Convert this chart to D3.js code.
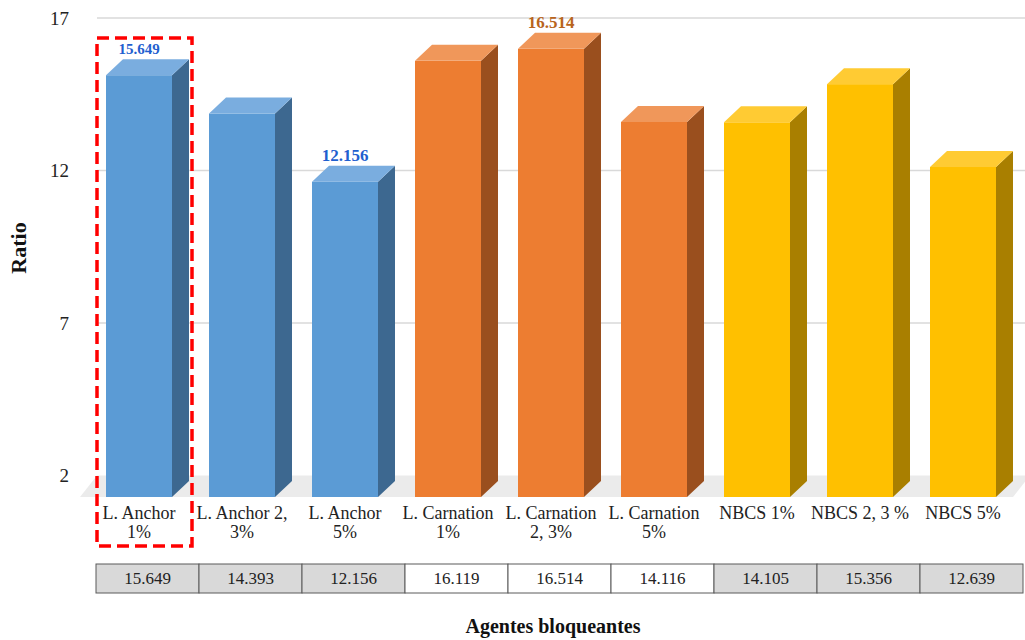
<!DOCTYPE html>
<html>
<head>
<meta charset="utf-8">
<script src="https://cdn.jsdelivr.net/npm/d3@7"></script>
<style>
  body { margin: 0; background: #fff; }
  svg { display: block; }
</style>
</head>
<body>
<div id="chart"></div>
<script>
// data
const categories = ["L. Anchor\n1%", "L. Anchor 2,\n3%", "L. Anchor\n5%", "L. Carnation\n1%", "L. Carnation\n2, 3%", "L. Carnation\n5%", "NBCS 1%", "NBCS 2, 3 %", "NBCS 5%"];
const values = [15.649, 14.393, 12.156, 16.119, 16.514, 14.116, 14.105, 15.356, 12.639];
const tableLabels = ["15.649", "14.393", "12.156", "16.119", "16.514", "14.116", "14.105", "15.356", "12.639"];
const groups = ["anchor", "anchor", "anchor", "carnation", "carnation", "carnation", "nbcs", "nbcs", "nbcs"];
const yTicks = [2, 7, 12, 17];
const highlighted = [0, 2, 4]; // bars with value label on top

const palette = {
    anchor:    {front: "#5b9bd5", top: "#7aaddf", side: "#3d6890", label: "#1f5fcf"},
    carnation: {front: "#ed7d31", top: "#f0975a", side: "#9a4f1e", label: "#b8641c"},
    nbcs:      {front: "#ffc000", top: "#ffcb33", side: "#a97f00", label: "#a97f00"}
}

let width = 1025, height = 640
let font = "'Liberation Serif', 'Times New Roman', serif"

let svg = d3.select('#chart')
    .append('svg')
    .attr('width', width)
    .attr('height', height)
    .style('font-family', font)

// depth of the 3d bars
let dx = 17, dy = 16
let floorFront = 497

let x = d3.scaleBand()
    .domain(d3.range(categories.length))
    .range([96, 1023])
    .padding(0)

// y scale on the back wall
let y = d3.scaleLinear()
    .domain([2, 17])
    .range([475.5, 18])

// floor
svg.append('path')
    .attr('d', `M97,${y(2)} L1030,${y(2)} L1013,${floorFront} L80,${floorFront} Z`)
    .attr('fill', '#ebebeb')

// gridlines
svg.append('g')
    .selectAll('line')
    .data(yTicks.filter(d => d > 2))
    .enter()
    .append('line')
    .attr('x1', 97)
    .attr('x2', 1025)
    .attr('y1', d => y(d))
    .attr('y2', d => y(d))
    .attr('stroke', '#d9d9d9')
    .attr('stroke-width', 1.3)

// y axis labels
let yAxis = d3.axisLeft(y).tickValues(yTicks).tickSize(0).tickPadding(0)
let yg = svg.append('g')
    .attr('transform', 'translate(69,0)')
    .call(yAxis)
yg.select('.domain').remove()
yg.selectAll('text')
    .style('font-family', font)
    .style('font-size', '19px')
    .attr('fill', '#222')

svg.append('text')
    .attr('transform', 'translate(26,248) rotate(-90)')
    .attr('text-anchor', 'middle')
    .style('font-size', '22px')
    .style('font-weight', 'bold')
    .attr('fill', '#111')
    .text('Ratio')

// bars
let barW = 66
let bars = svg.append('g')
    .selectAll('g')
    .data(values)
    .enter()
    .append('g')

bars.each(function(v, i) {
    let g = d3.select(this)
    let c = palette[groups[i]]
    let x0 = x(i) + x.bandwidth() / 2 - 41.5
    let x1 = x0 + barW
    let yt = y(v) + dy
    // front
    g.append('rect')
        .attr('x', x0).attr('y', yt)
        .attr('width', barW).attr('height', floorFront - yt)
        .attr('fill', c.front)
    // side
    g.append('path')
        .attr('d', `M${x1},${yt} L${x1 + dx},${yt - dy} L${x1 + dx},${floorFront - dy} L${x1},${floorFront} Z`)
        .attr('fill', c.side)
    // top
    g.append('path')
        .attr('d', `M${x0},${yt} L${x0 + dx},${yt - dy} L${x1 + dx},${yt - dy} L${x1},${yt} Z`)
        .attr('fill', c.top)
})

// value labels on selected bars
svg.append('g')
    .selectAll('text')
    .data(highlighted)
    .enter()
    .append('text')
    .attr('x', i => x(i) + x.bandwidth() / 2 - 41.5 + barW / 2)
    .attr('y', i => y(values[i]) - 5)
    .attr('text-anchor', 'middle')
    .style('font-size', i => i == 0 ? '15px' : '17px')
    .style('font-weight', 'bold')
    .attr('fill', i => palette[groups[i]].label)
    .text(i => values[i].toFixed(3))

// category labels
let catLabels = svg.append('g')
    .selectAll('text')
    .data(categories)
    .enter()
    .append('text')
    .attr('text-anchor', 'middle')
    .attr('x', (d, i) => x(i) + x.bandwidth() / 2 - 41.5 + barW / 2)
    .attr('y', 519)
    .style('font-size', '18px')
    .attr('fill', '#222')

catLabels.each(function(d) {
    let t = d3.select(this)
    d.split('\n').forEach((line, k) => {
        t.append('tspan')
            .attr('x', t.attr('x'))
            .attr('dy', k == 0 ? 0 : 19)
            .text(line)
    })
})

// table of values
let table = svg.append('g')
table.selectAll('rect')
    .data(tableLabels)
    .enter()
    .append('rect')
    .attr('x', (d, i) => x(i))
    .attr('y', 564)
    .attr('width', x.bandwidth())
    .attr('height', 29)
    .attr('fill', (d, i) => groups[i] == 'carnation' ? '#ffffff' : '#d9d9d9')
    .attr('stroke', '#5a5a5a')
    .attr('stroke-width', 1)

table.selectAll('text')
    .data(tableLabels)
    .enter()
    .append('text')
    .attr('x', (d, i) => x(i) + x.bandwidth() / 2)
    .attr('y', 584)
    .attr('text-anchor', 'middle')
    .style('font-size', '17px')
    .attr('fill', '#222')
    .text(d => d)

// x axis title
svg.append('text')
    .attr('x', 553)
    .attr('y', 633)
    .attr('text-anchor', 'middle')
    .style('font-size', '20px')
    .style('font-weight', 'bold')
    .attr('fill', '#111')
    .text('Agentes bloqueantes')

// red highlight box
svg.append('rect')
    .attr('x', 97)
    .attr('y', 38)
    .attr('width', 95)
    .attr('height', 508)
    .attr('fill', 'none')
    .attr('stroke', '#ff0000')
    .attr('stroke-width', 3.5)
    .attr('stroke-dasharray', '12,6')
</script>
</body>
</html>
